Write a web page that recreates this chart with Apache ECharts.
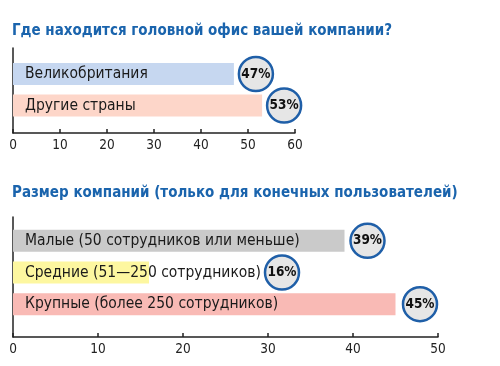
<!DOCTYPE html>
<html><head><meta charset="utf-8">
<script src="https://cdn.jsdelivr.net/npm/echarts@6/dist/echarts.min.js"></script>
<style>html,body{margin:0;padding:0;background:#fff}#c{width:500px;height:366px}</style>
</head><body><div id="c"></div>
<script>
var title1 = 'Где находится головной офис вашей компании?';
var cats1 = ['Великобритания', 'Другие страны'];
var vals1 = [47, 53];
var colors1 = ['#c6d7f0', '#fdd6c9'];
var ticks1 = [0, 10, 20, 30, 40, 50, 60];

var title2 = 'Размер компаний (только для конечных пользователей)';
var cats2 = ['Малые (50 сотрудников или меньше)', 'Средние (51—250 сотрудников)', 'Крупные (более 250 сотрудников)'];
var vals2 = [39, 16, 45];
var colors2 = ['#cacaca', '#fdf7a0', '#f9bab5'];
var ticks2 = [0, 10, 20, 30, 40, 50];

var FONT = '"DejaVu Sans Condensed", "DejaVu Sans", sans-serif';
var BLUE = '#1a64ad';

function axisX(gi, max, show) {
  return {
    type: 'value', gridIndex: gi, min: 0, max: max, interval: 10, show: show,
    splitLine: {show: false},
    axisLine: {show: true, lineStyle: {color: '#222', width: 1.5}},
    axisTick: {show: true, inside: true, length: 4, lineStyle: {color: '#222', width: 1.5}},
    axisLabel: {color: '#222', fontFamily: FONT, fontSize: 13.5, margin: 5}
  };
}
function axisYLine(gi) {
  return {
    type: 'value', gridIndex: gi, min: 0, max: 1,
    splitLine: {show: false}, axisTick: {show: false}, axisLabel: {show: false},
    axisLine: {show: true, lineStyle: {color: '#222', width: 1.5}}
  };
}
function axisYCat(gi, cats) {
  return {type: 'category', gridIndex: gi, data: cats, inverse: true, show: false};
}
function bars(xi, yi, vals, colors) {
  return {
    type: 'bar', xAxisIndex: xi, yAxisIndex: yi, barWidth: 22, silent: true,
    data: vals.map(function (v, i) { return {value: v, itemStyle: {color: colors[i]}}; }),
    label: {
      show: true, position: 'insideLeft', distance: 12,
      formatter: '{b}', color: '#1a1a1a', fontFamily: FONT, fontSize: 15.5
    }
  };
}
function circles(xi, yi, vals, offsets) {
  return {
    type: 'scatter', xAxisIndex: xi, yAxisIndex: yi, symbol: 'circle', symbolSize: 34, silent: true, z: 5,
    data: vals.map(function (v, i) { return {value: [v, i], symbolOffset: [offsets[i], 0]}; }),
    itemStyle: {color: '#e6e6e6', borderColor: '#1f5fa8', borderWidth: 2.5, opacity: 1},
    label: {
      show: true, position: 'inside', color: '#111', fontFamily: FONT, fontWeight: 'bold', fontSize: 13.5,
      formatter: function (p) { return p.value[0] + '%'; }
    }
  };
}

var chart = echarts.init(document.getElementById('c'));
chart.setOption({
  animation: false,
  title: [
    {text: title1, left: 12, top: 24, padding: 0, textStyle: {color: BLUE, fontFamily: FONT, fontWeight: 'bold', fontSize: 15}},
    {text: title2, left: 12, top: 186, padding: 0, textStyle: {color: BLUE, fontFamily: FONT, fontWeight: 'bold', fontSize: 15}}
  ],
  grid: [
    {left: 13, width: 282, top: 48, height: 85},
    {left: 13, width: 282, top: 58.25, height: 63},
    {left: 13, width: 425, top: 217, height: 120},
    {left: 13, width: 425, top: 225, height: 95}
  ],
  xAxis: [axisX(0, 60, true), axisX(1, 60, false), axisX(2, 50, true), axisX(3, 50, false)],
  yAxis: [axisYLine(0), axisYCat(1, cats1), axisYLine(2), axisYCat(3, cats2)],
  series: [
    bars(1, 1, vals1, colors1),
    circles(1, 1, vals1, [22, 22]),
    bars(3, 3, vals2, colors2),
    circles(3, 3, vals2, [23, 133, 24.5])
  ]
});
</script></body></html>
